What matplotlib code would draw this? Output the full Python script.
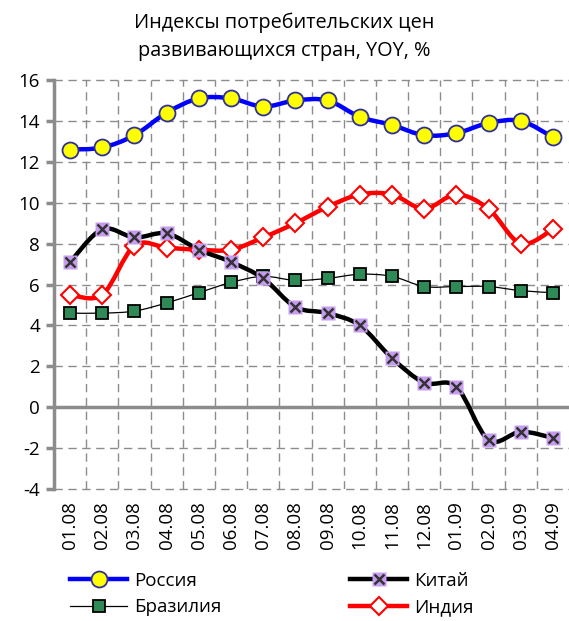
import matplotlib
matplotlib.use("Agg")
import matplotlib.pyplot as plt
from matplotlib.path import Path
from matplotlib.patches import PathPatch
from matplotlib.lines import Line2D
import numpy as np

plt.rcParams['font.family'] = ['Open Sans', 'Noto Sans', 'DejaVu Sans']

months = ["01.08", "02.08", "03.08", "04.08", "05.08", "06.08", "07.08", "08.08",
          "09.08", "10.08", "11.08", "12.08", "01.09", "02.09", "03.09", "04.09"]
russia = [12.6, 12.7, 13.3, 14.4, 15.1, 15.1, 14.7, 15.0, 15.0, 14.2, 13.8, 13.3, 13.4, 13.9, 14.0, 13.2]
china = [7.1, 8.7, 8.3, 8.5, 7.7, 7.1, 6.3, 4.9, 4.6, 4.0, 2.4, 1.2, 1.0, -1.6, -1.2, -1.5]
brazil = [4.6, 4.6, 4.7, 5.1, 5.6, 6.1, 6.4, 6.2, 6.3, 6.5, 6.4, 5.9, 5.9, 5.9, 5.7, 5.6]
india = [5.5, 5.5, 7.9, 7.8, 7.7, 7.7, 8.3, 9.0, 9.8, 10.4, 10.4, 9.7, 10.4, 9.7, 8.0, 8.7]
yticks = [-4, -2, 0, 2, 4, 6, 8, 10, 12, 14, 16]
title = "Индексы потребительских цен\nразвивающихся стран, YOY, %"

W, H = 569, 621
fig = plt.figure(figsize=(W / 100, H / 100), dpi=100)
ax = fig.add_axes([54 / W, 1 - 489 / H, (W - 54) / W, (489 - 80) / H])

x = np.arange(len(months))


def smooth_path(xs, ys):
    pts = np.column_stack([xs, ys]).astype(float)
    n = len(pts)
    verts = [pts[0]]
    codes = [Path.MOVETO]
    for i in range(n - 1):
        p0 = pts[i - 1] if i > 0 else pts[i]
        p1 = pts[i]
        p2 = pts[i + 1]
        p3 = pts[i + 2] if i + 2 < n else pts[i + 1]
        c1 = p1 + (p2 - p0) / 6.0
        c2 = p2 - (p3 - p1) / 6.0
        verts += [c1, c2, p2]
        codes += [Path.CURVE4] * 3
    return Path(verts, codes)


grid_c = "#8c8c8c"
for yv in yticks:
    if yv == 0:
        continue
    ax.axhline(yv, color=grid_c, lw=1.0, ls=(0, (6, 4)), zorder=1, clip_on=False)
for xv in x[:-1] + 0.5:
    ax.axvline(xv, color=grid_c, lw=1.0, ls=(0, (6, 4)), zorder=1)
ax.axhline(0, color="#8c8c8c", lw=2.5, zorder=2)

series = [
    (russia, dict(color="#0000ff", lw=3.2), dict(marker="o", ms=11.5, mfc="#ffff00", mec="#2e3192", mew=1.3)),
    (brazil, dict(color="#000000", lw=0.9), dict(marker="s", ms=8, mfc="#2e8b57", mec="#000000", mew=1.3)),
    (india, dict(color="#ff0000", lw=3.2), dict(marker="D", ms=9, mfc="#ffffff", mec="#ff0000", mew=1.5)),
    (china, dict(color="#000000", lw=3.2), None),
]
for ys, lstyle, mstyle in series:
    patch = PathPatch(smooth_path(x, ys), facecolor="none", edgecolor=lstyle["color"],
                      lw=lstyle["lw"], zorder=3, capstyle="round", joinstyle="round")
    ax.add_patch(patch)
    if mstyle is not None:
        ax.plot(x, ys, ls="none", zorder=4, **mstyle)
    else:
        ax.plot(x, ys, ls="none", marker="s", ms=9.5, mfc="#c69cf0", mec="none", zorder=4)
        ax.plot(x, ys, ls="none", marker="x", ms=7, mec="#333333", mew=1.8, zorder=5)

ax.set_xlim(-0.5, len(months) - 0.5)
ax.set_ylim(-4, 16)
ax.set_yticks(yticks)
ax.set_yticklabels([str(v) for v in yticks], fontsize=13.5)
ax.set_xticks(x)
ax.set_xticklabels(months, rotation=90, fontsize=13.5)
ax.tick_params(axis="x", length=0, pad=9)
ax.tick_params(axis="y", length=6, width=2.5, color="#8c8c8c", direction="out", pad=4)
for s in ["top", "right", "bottom"]:
    ax.spines[s].set_visible(False)
ax.spines["left"].set_color("#8c8c8c")
ax.spines["left"].set_linewidth(2.5)

fig.text(0.5, 1 - 37 / H, title, ha="center", va="center", fontsize=14.3, linespacing=1.55)

h_russia = Line2D([], [], color="#0000ff", lw=3.2, marker="o", ms=11.5, mfc="#ffff00", mec="#2e3192", mew=1.3)
h_brazil = Line2D([], [], color="#000000", lw=0.9, marker="s", ms=8, mfc="#2e8b57", mec="#000000", mew=1.3)
h_china1 = Line2D([], [], color="#000000", lw=3.2, marker="s", ms=9.5, mfc="#c69cf0", mec="none")
h_china2 = Line2D([], [], ls="none", marker="x", ms=7, mec="#333333", mew=1.8)
h_india = Line2D([], [], color="#ff0000", lw=3.2, marker="D", ms=9, mfc="#ffffff", mec="#ff0000", mew=1.5)

leg_kw = dict(loc="center left", frameon=False, fontsize=13.5, handlelength=3.05,
              handletextpad=0.35, labelspacing=0.45, borderpad=0, borderaxespad=0)
leg1 = fig.legend([h_russia, h_brazil], ["Россия", "Бразилия"],
                  bbox_to_anchor=(70 / W, 1 - 594 / H), **leg_kw)
leg2 = fig.legend([(h_china1, h_china2), h_india], ["Китай", "Индия"],
                  bbox_to_anchor=(350 / W, 1 - 594 / H), **leg_kw)

fig.savefig("out.png", dpi=100)
